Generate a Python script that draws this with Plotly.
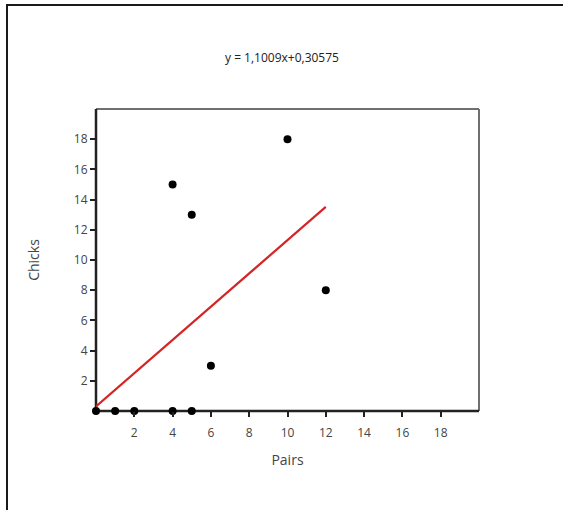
import plotly.graph_objects as go

pairs = [0, 1, 2, 4, 5, 4, 5, 6, 10, 12]
chicks = [0, 0, 0, 0, 0, 15, 13, 3, 18, 8]
slope = 1.1009
intercept = 0.30575
fit_x = [0, 12]
fit_y = [intercept + slope * v for v in fit_x]
tick_vals = [2, 4, 6, 8, 10, 12, 14, 16, 18]
title_text = "y = 1,1009x+0,30575"

W, H = 563, 510
L, R, T, B = 96, 84, 109, 99
pw, ph = W - L - R, H - T - B

def px(x):
    return (x - L) / pw

def py(y):
    return (H - B - y) / ph

fig = go.Figure()
fig.add_trace(go.Scatter(x=fit_x, y=fit_y, mode="lines",
                         line=dict(color="#d42424", width=2.2), showlegend=False,
                         cliponaxis=False))
fig.add_trace(go.Scatter(x=pairs, y=chicks, mode="markers",
                         marker=dict(color="black", size=8), showlegend=False,
                         cliponaxis=False))

font = "Segoe UI, Open Sans, DejaVu Sans, sans-serif"
fig.update_layout(
    width=W, height=H,
    margin=dict(l=L, r=R, t=T, b=B),
    paper_bgcolor="white", plot_bgcolor="white",
    font=dict(family=font, size=12, color="#444444"),
    xaxis=dict(range=[0, 20], tickvals=tick_vals, ticks="outside", ticklen=5,
               tickwidth=1.5, tickcolor="#222222", showgrid=False, zeroline=False,
               showline=False, title=dict(text="Pairs", standoff=14),
               ticklabelstandoff=6,
               tickfont=dict(size=12, color="#444444")),
    yaxis=dict(range=[0, 20], tickvals=tick_vals, ticks="outside", ticklen=5,
               tickwidth=1.5, tickcolor="#222222", showgrid=False, zeroline=False,
               showline=False, title=dict(text="Chicks", standoff=30),
               tickfont=dict(size=12, color="#444444")),
    annotations=[dict(text=title_text, xref="paper", yref="paper",
                      x=px(282), y=py(58), showarrow=False,
                      font=dict(size=12, color="#222222"),
                      xanchor="center", yanchor="middle")],
    shapes=[
        dict(type="line", xref="paper", yref="paper", x0=0, y0=1, x1=1, y1=1,
             line=dict(color="#707070", width=2), layer="below"),
        dict(type="line", xref="paper", yref="paper", x0=1, y0=0, x1=1, y1=1,
             line=dict(color="#707070", width=2), layer="below"),
        dict(type="line", xref="paper", yref="paper", x0=0, y0=0, x1=0, y1=1,
             line=dict(color="#222222", width=2.5), layer="below"),
        dict(type="line", xref="paper", yref="paper", x0=0, y0=0, x1=1, y1=0,
             line=dict(color="#222222", width=2.5), layer="below"),
        dict(type="line", xref="paper", yref="paper", x0=px(7), y0=py(5), x1=px(7), y1=py(520),
             line=dict(color="#1a1a1a", width=2)),
        dict(type="line", xref="paper", yref="paper", x0=px(6), y0=py(5), x1=px(570), y1=py(5),
             line=dict(color="#1a1a1a", width=2)),
    ],
)

fig.write_html("out.html", config={"displayModeBar": False},
               post_script="document.body.style.margin='0';document.body.style.overflow='hidden';")
